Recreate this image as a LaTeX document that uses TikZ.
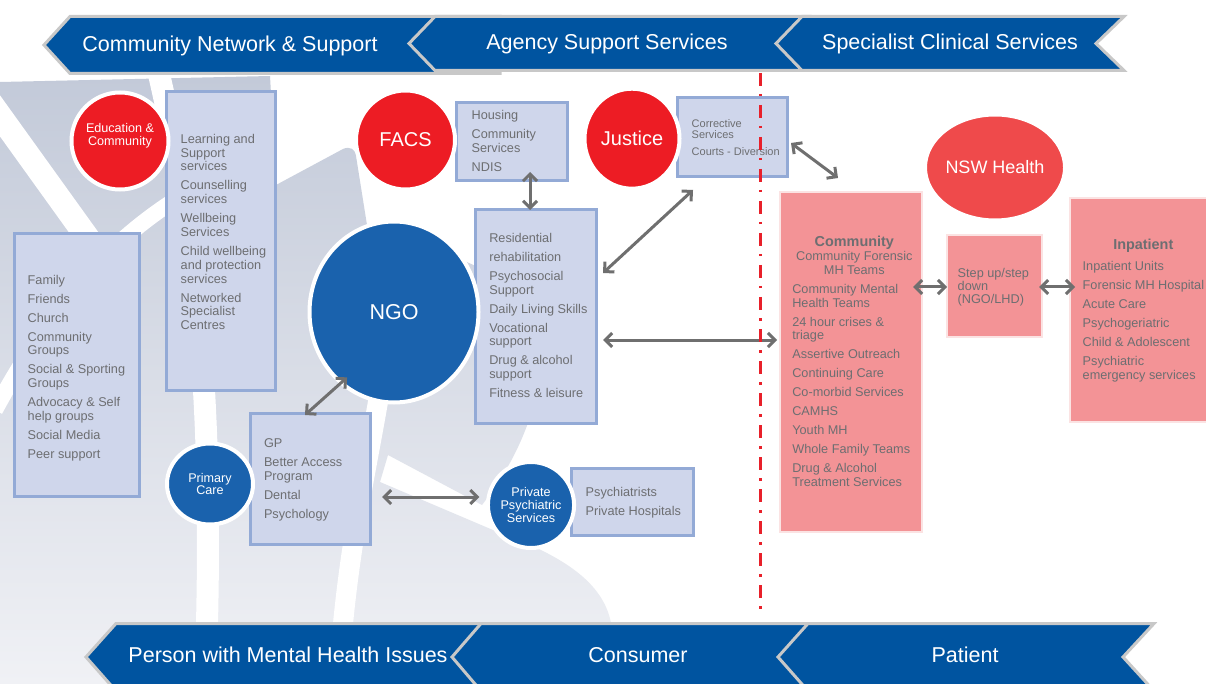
\documentclass[tikz,border=0pt]{standalone}
\usepackage{fontspec}
\setmainfont{Liberation Sans}
\usetikzlibrary{arrows.meta,shapes.geometric}
\definecolor{bannerc}{HTML}{0054A0}
\definecolor{bannerline}{HTML}{C8C8C8}
\definecolor{redc}{HTML}{ED1C24}
\definecolor{bluec}{HTML}{1A62AD}
\definecolor{nswc}{HTML}{EF4A4B}
\definecolor{boxfill}{HTML}{CFD6EB}
\definecolor{boxline}{HTML}{93AAD6}
\definecolor{pinkfill}{HTML}{F39396}
\definecolor{pinkline}{HTML}{FBE3E3}
\definecolor{arrowc}{HTML}{6F6F6F}
\definecolor{txtgray}{HTML}{6D6E71}
\definecolor{dashred}{HTML}{E8202A}
\definecolor{bgtop}{HTML}{C3CAD9}
\definecolor{bgbot}{HTML}{F0F1F5}
\newcommand\myfnt{\fontsize{12.7}{13.8}\selectfont}
\newcommand\mysmallfnt{\fontsize{11}{11}\selectfont}
\newcommand\mycfnt{\fontsize{12.6}{12.8}\selectfont}
\newcommand\mybanfnt{\fontsize{21.5}{24}\selectfont}
\newcommand\myboldfnt{\fontsize{14.4}{16}\selectfont\bfseries}
\newcommand\mystrut{\rule{0pt}{10pt}}
\newcommand\isep{\\[5.2pt]}
\begin{document}
\begin{tikzpicture}[x=1pt,y=-1pt,
  box/.style={rectangle, draw=boxline, fill=boxfill, line width=3pt, inner sep=0pt, outer sep=0pt, anchor=north west},
  pbox/.style={rectangle, draw=pinkline, fill=pinkfill, line width=1.5pt, inner sep=0pt, outer sep=0pt, anchor=north west},
  lst/.style={anchor=north west, inner sep=0pt, outer sep=0pt, align=left, text=txtgray, font=\myfnt},
  disc/.style={ellipse, draw=white, line width=4pt, inner sep=0pt, outer sep=0pt, text=white, align=center},
  rdisc/.style={disc, fill=redc},
  bdisc/.style={disc, fill=bluec},
  ctxt/.style={inner sep=0pt, text=white, align=center, font=\mycfnt},
  conn/.style={draw=arrowc, line width=3pt, {Straight Barb[length=7pt,width=14pt]}-{Straight Barb[length=7pt,width=14pt]}},
  banner/.style={fill=bannerc, draw=bannerline, line width=3pt},
  btxt/.style={anchor=base, inner sep=0pt, text=white, font=\mybanfnt},
  hdr/.style={anchor=base, inner sep=0pt, text=txtgray, font=\myboldfnt}]
\useasboundingbox (0,0) rectangle (1206,684);
\fill[white] (0,0) rectangle (1206,684);
% background swoosh
\shade[top color=bgtop,bottom color=bgbot] (0,82) -- (270,76) -- (276,185) -- (343,149) .. controls (350,146) and (355,149) .. (356,156) -- (367,225) .. controls (430,250) and (560,280) .. (545,350) .. controls (535,430) and (505,475) .. (482,505) -- (388,455) -- (380,482) -- (500,533) .. controls (575,560) and (608,590) .. (612,630) -- (612,684) -- (0,684) -- cycle;
\draw[white,line width=24pt] (-10,102) -- (105,262);
\draw[white,line width=16pt] (178,198) .. controls (120,235) and (60,290) .. (-5,410);
\draw[white,line width=22pt] (158,70) .. controls (200,250) and (215,420) .. (205,690);
\draw[white,line width=20pt] (380,390) .. controls (365,480) and (345,560) .. (338,690);
% top banners
\path[banner] (44,45) -- (70,16.5) -- (500,16.5) -- (500,73.5) -- (70,73.5) -- cycle;
\path[banner] (409,43.5) -- (435,16.5) -- (810,16.5) -- (810,70.5) -- (435,70.5) -- cycle;
\path[banner] (776,43.5) -- (802,16.5) -- (1124,16.5) -- (1096,43.5) -- (1124,70.5) -- (802,70.5) -- cycle;
\node[btxt] (b1t) at (230,51.7) {Community Network \& Support};
\node[btxt] (b2t) at (607,49.3) {Agency Support Services};
\node[btxt] (b3t) at (950,50) {Specialist Clinical Services};
% bottom banners
\path[banner] (86,657) -- (116,623.5) -- (520,623.5) -- (520,691) -- (116,691) -- cycle;
\path[banner] (452,657) -- (481,623.5) -- (840,623.5) -- (840,691) -- (481,691) -- cycle;
\path[banner] (778,657) -- (808,623.5) -- (1154,623.5) -- (1123,657) -- (1154,691) -- (808,691) -- cycle;
\node[btxt] (p1t) at (288,662.7) {Person with Mental Health Issues};
\node[btxt] (p2t) at (638,662.7) {Consumer};
\node[btxt] (p3t) at (965,662.7) {Patient};
% boxes
\node[box,minimum width=125pt,minimum height=262pt] (family) at (14,234) {};
\node[box,minimum width=108.5pt,minimum height=298pt] (learn) at (166.5,92) {};
\node[box,minimum width=110.5pt,minimum height=78.5pt] (housing) at (456.5,102.5) {};
\node[box,minimum width=110pt,minimum height=79pt] (correct) at (677,98) {};
\node[box,minimum width=121pt,minimum height=213.5pt] (resid) at (475,210) {};
\node[box,minimum width=120pt,minimum height=131pt] (gp) at (250,413) {};
\node[box,minimum width=122pt,minimum height=67pt] (psych) at (571.5,468) {};
\node[pbox,minimum width=142pt,minimum height=340pt] (comm) at (780,192) {};
\node[pbox,minimum width=95pt,minimum height=102pt] (step) at (947,235) {};
\node[pbox,minimum width=150pt,minimum height=224pt] (inp) at (1070,198) {};
% lists
\node[lst] (familyt) at (27.7,274) {\mystrut Family\isep Friends\isep Church\isep Community\\Groups\isep Social \& Sporting\\Groups\isep Advocacy \& Self\\help groups\isep Social Media\isep Peer support};
\node[lst] (learnt) at (180.7,133.2) {\mystrut Learning and\\Support\\services\isep Counselling\\services\isep Wellbeing\\Services\isep Child wellbeing\\and protection\\services\isep Networked\\Specialist\\Centres};
\node[lst] (housingt) at (471.7,110) {\mystrut Housing\isep Community\\Services\isep NDIS};
\node[lst,font=\mysmallfnt] (correctt) at (691.7,117.3) {\mystrut Corrective\\Services\\[6pt]Courts - Diversion};
\node[lst] (residt) at (489.3,232.3) {\mystrut Residential\isep rehabilitation\isep Psychosocial\\Support\isep Daily Living Skills\isep Vocational\\support\isep Drug \& alcohol\\support\isep Fitness \& leisure};
\node[lst] (gpt) at (264,437.3) {\mystrut GP\isep Better Access\\Program\isep Dental\isep Psychology};
\node[lst] (psycht) at (585.7,486) {\mystrut Psychiatrists\isep Private Hospitals};
\node[hdr] (commh) at (854.3,246.7) {Community};
\node[lst,anchor=north,align=center] (commf) at (854.3,250.7) {\mystrut Community Forensic\\MH Teams};
\node[lst] (commt) at (792.3,283.3) {\mystrut Community Mental\\Health Teams\isep 24 hour crises \&\\triage\isep Assertive Outreach\isep Continuing Care\isep Co-morbid Services\isep CAMHS\isep Youth MH\isep Whole Family Teams\isep Drug \& Alcohol\\Treatment Services};
\node[lst,font=\fontsize{12.7}{12.8}\selectfont] (stept) at (957.7,267.7) {\mystrut Step up/step\\down\\(NGO/LHD)};
\node[hdr] (inph) at (1143.3,249.3) {Inpatient};
\node[lst] (inpt) at (1082.7,260.7) {\mystrut Inpatient Units\isep Forensic MH Hospital\isep Acute Care\isep Psychogeriatric\isep Child \& Adolescent\isep Psychiatric\\emergency services};
% discs
\node[rdisc,minimum width=97pt,minimum height=97pt] (edu) at (120,141) {};
\node[ctxt] (edut) at ([yshift=5pt]edu.center) {Education \&\\Community};
\node[rdisc,minimum width=99pt,minimum height=99pt,font=\fontsize{20}{24}\selectfont] (facs) at (405.5,140) {FACS};
\node[rdisc,minimum width=95pt,minimum height=100pt,font=\fontsize{20}{24}\selectfont] (justice) at (632,138.7) {Justice};
\node[bdisc,minimum width=169pt,minimum height=181pt,font=\fontsize{21.5}{24}\selectfont] (ngo) at (394,312) {NGO};
\node[bdisc,minimum width=86pt,minimum height=81pt,font=\mycfnt] (primary) at (210,484) {Primary\\Care};
\node[bdisc,minimum width=85pt,minimum height=86pt,font=\mycfnt] (private) at (531,505) {Private\\Psychiatric\\Services};
\node[disc,fill=nswc,minimum width=116pt,minimum height=106pt,font=\fontsize{18}{20}\selectfont] (nsw) at (995,167.5) {NSW Health};
% connectors
\draw[conn] ([xshift=18.25pt,yshift=9pt]housing.south) -- ([xshift=-5.5pt]resid.north);
\draw[conn] ([xshift=4pt,yshift=-5.5pt]correct.east) -- ([xshift=-13pt,yshift=14pt]comm.north);
\draw[conn] ([xshift=7pt,yshift=43.75pt]resid.east) -- ([xshift=-39pt,yshift=-13pt]correct.south);
\draw[conn] ([xshift=7pt,yshift=-23.25pt]resid.east) -- ([xshift=-3pt,yshift=22pt]comm.west);
\draw[conn] ([xshift=5pt,yshift=6pt]ngo.-126) -- ([xshift=-5pt,yshift=-2pt]gp.north);
\draw[conn] ([xshift=12pt,yshift=-18.5pt]gp.east) -- ([xshift=-8.5pt,yshift=8pt]private.west);
\draw[conn] ([xshift=-9pt,yshift=75pt]comm.east) -- ([yshift=-1pt]step.west);
\draw[conn] ([xshift=-3pt,yshift=-1pt]step.east) -- ([xshift=5pt,yshift=23pt]inp.west);
% divider
\coordinate (divtop) at (760.5,73);
\coordinate (divbot) at (760.5,616);
\draw[dashred,line width=3pt,dash pattern=on 13pt off 8pt on 2.5pt off 8.5pt] (divtop) -- (divbot);
\end{tikzpicture}
\end{document}
